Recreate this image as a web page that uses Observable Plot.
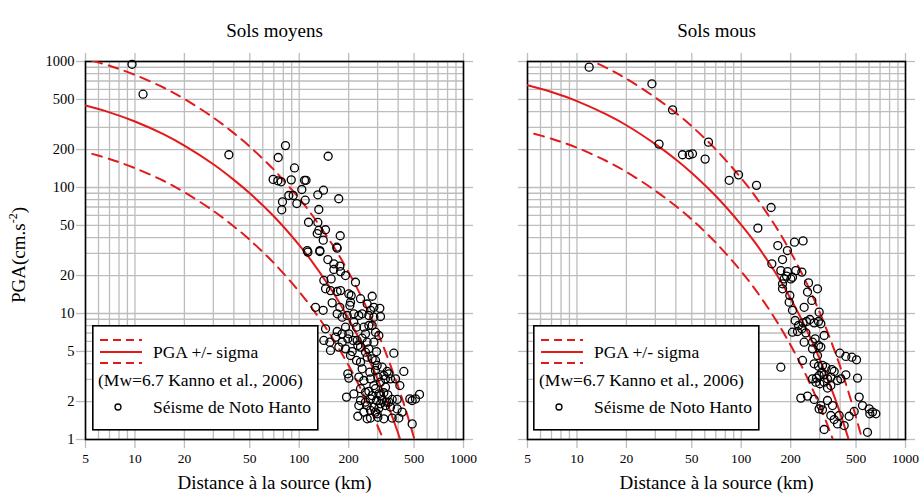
<!DOCTYPE html>
<html><head><meta charset="utf-8">
<script src="https://cdn.jsdelivr.net/npm/d3@7"></script>
<script src="https://cdn.jsdelivr.net/npm/@observablehq/plot@0.6"></script>
<style>
body{margin:0;background:#fff;}
#wrap{position:relative;width:922px;height:497px;overflow:hidden;font-family:"Liberation Serif","DejaVu Serif",serif;}
#wrap > svg{position:absolute;top:0;}
</style></head><body><div id="wrap"></div>
<script>
// ---- axes ----
const xTicks = [5,10,20,50,100,200,500,1000];
const yTicks = [1,2,5,10,20,50,100,200,500,1000];
const xGrid = [5,6,7,8,9,10,20,30,40,50,60,70,80,90,100,200,300,400,500,600,700,800,900,1000];
const yGrid = [1,2,3,4,5,6,7,8,9,10,20,30,40,50,60,70,80,90,100,200,300,400,500,600,700,800,900,1000];
const titles = ["Sols moyens", "Sols mous"];
const xLabel = "Distance à la source (km)";
const yLabelParts = ["PGA(cm.s", "-2", ")"];
const legendLines = ["PGA +/- sigma", "(Mw=6.7 Kanno et al., 2006)", "Séisme de Noto Hanto"];

// ---- Kanno et al. (2006) curves ----
const curveDist = [5,7,10,15,20,30,40,50,70,100,120,150,175,200,225,250,275,300,325,350,375,400,450,500,550,600];
const moyensMed = [447,395,334,264,215,153,115,90,59.1,34.9,25.7,16.9,12.27,9.05,6.78,5.13,3.92,3.01,2.34,1.82,1.42,1.12,0.70,0.44,0.28,0.18];
const moyensUp  = [1048,926,783,619,504,359,270,211,138.5,81.8,60.2,39.6,28.8,21.2,15.9,12.0,9.19,7.06,5.48,4.27,3.33,2.63,1.64,1.03,0.66,0.42];
const moyensLo  = [191,168.5,142.5,112.6,91.7,65.3,49.1,38.4,25.2,14.9,10.96,7.21,5.23,3.86,2.89,2.19,1.67,1.28,1.0,0.78,0.61,0.48,0.30,0.19,0.12,0.077];
const mousMed = [647,572,485,382,312,221,167,130.5,85.6,50.6,37.3,24.5,17.8,13.1,9.82,7.43,5.68,4.37,3.38,2.63,2.06,1.62,1.01,0.639,0.407,0.262];
const mousUp  = [1517,1341,1137,895,731,518,391,306,200.6,118.6,87.4,57.4,41.7,30.7,23.0,17.4,13.3,10.24,7.92,6.16,4.83,3.80,2.37,1.50,0.954,0.614];
const mousLo  = [276,244,207,163,133,94.3,71.2,55.7,36.5,21.6,15.9,10.45,7.59,5.59,4.19,3.17,2.42,1.864,1.442,1.122,0.879,0.691,0.431,0.273,0.174,0.112];

// ---- Noto Hanto observations ----
const moyensDist = [9.6,11.2,37.3,82.5,74.5,150,93.6,69.4,74.1,77.7,89.4,107.7,110,103.7,129.8,140.5,86.4,91.9,174,108.7,79.1,96.7,78.3,131.6,113.9,129.8,144.5,131.6,128.7,177.6,140,169.3,111.8,133.5,
112.9,133.5,170.2,149.4,162.4,176.7,162.4,178.4,191.3,141.2,156.4,220,144.6,155,170.2,178.4,200.4,207.1,125.6,139.9,158.7,176.7,205.2,203.3,236.1,278,259.2,284.6,309.5,271.6,
170.2,182.6,195.8,214.9,230.6,241.6,265.3,284.6,312.4,144.6,170.2,182.6,200.4,223.2,247.4,265.3,278,305.2,141.2,153.6,166.3,182.6,197.6,212.9,225.3,241.6,259.2,284.6,
155,174.2,191.3,210,236.1,265.3,295.4,205.2,223.2,236.1,259.2,278,291.3,376.7,197.6,200.4,241.6,269,291.3,319.8,343,351.1,230.6,247.4,271.6,300.9,327.4,359.5,385.6,433.3,409.7,
194,214.9,236.1,265.3,291.3,305.2,327.4,346.2,236.1,253.2,271.6,295.4,319.8,339.8,368,394.7,487.1,510.3,539.7,471.4,230.6,259.2,284.6,305.2,335.1,359.5,394.7,423.3,
227.4,259.2,271.6,300.9,327.4,368,404,487.1,271.6,247.4,298.1,284.6,312.4,335.1,278,253.2,312.4,298.1,253.2,214.9,191.3,253.2,291.3,227.4,335.1,312.4,351.1,291.3];
const moyensPGA = [950,550,182,215,173,177,143,116,113,111,115,114,114,96.4,87.5,95.2,86.4,86.4,81.4,79.3,77,74.6,66.5,66.9,53,52.8,46.2,45.6,43.1,41.4,38.2,33.6,31.6,31.6,
30.7,31.05,33.0,26.8,24.8,23.75,22.35,21.5,20.0,18.3,18.8,17.7,15.7,15.2,14.95,15.2,14.3,13.9,11.2,10.6,12.15,11.2,12.3,11.6,13.1,13.7,11.9,11.2,11.0,10.6,
9.94,9.35,9.64,9.94,9.64,9.94,9.64,9.35,9.47,7.56,7.20,6.90,6.90,7.79,7.79,8.03,8.03,6.69,6.11,5.92,6.49,5.92,6.30,6.11,6.11,6.37,5.92,5.92,
5.09,5.41,5.24,4.99,5.41,5.24,4.99,4.64,4.24,4.11,4.50,4.37,4.24,4.84,3.32,3.07,3.64,3.42,3.53,3.75,3.47,3.32,3.13,2.94,3.03,3.13,3.22,3.03,3.03,3.47,2.68,
2.17,2.30,2.53,2.41,2.53,2.30,2.35,2.26,2.04,1.98,2.10,2.04,2.08,1.98,2.08,2.08,2.04,2.10,2.28,2.10,1.86,1.86,1.81,1.77,1.86,1.81,1.75,1.65,
1.53,1.46,1.48,1.50,1.46,1.48,1.48,1.33,1.70,1.65,1.60,2.68,2.85,2.60,2.23,2.37,1.92,3.87,4.93,8.53,7.79,6.90,7.11,5.57,3.03,2.23,1.98,1.65];

const mousDist = [11.87,28.6,38.2,31.6,63.2,43.9,48.2,50.5,60.3,84.5,96.3,123.9,152,126.3,167,211,238,191,
178.4,153.6,174.2,191.3,214.9,233.9,205.2,178.4,182.6,188.7,200.4,256.8,291.3,253.2,178.4,197.6,195.8,269,241.6,298.1,205.2,
212.9,223.2,238.3,249.7,261.6,278,295.4,305.2,205.2,220,233.9,247.4,319.8,241.6,271.6,281.9,295.4,305.2,236.1,271.6,291.3,
174.2,278,295.4,312.4,327.4,356.1,368,271.6,287.2,298.1,309.5,319.8,335.1,351.1,385.6,404,433.3,510.3,284.6,300.9,319.8,335.1,351.1,
398.4,433.3,471.4,503.3,230.6,253.2,278,305.2,298.1,312.4,335.1,359.5,522.4,547.3,601,629.8,659.8,606.6,351.1,368,394.7,385.6,423.3,453.9,487.1,319.8,587];
const mousPGA = [902,665,413,221,229,182,182,185,168,114,126,104,69.4,47.6,34.6,36.8,37.7,31.6,
26.8,24.8,21.9,21.5,21.9,21.3,19.4,17.2,18.8,19.8,18.8,17.5,15.7,14.8,15.7,13.9,12.3,12.7,11.2,10.25,10.6,
8.80,8.03,8.43,8.64,8.96,8.43,8.64,8.28,7.11,7.20,7.56,7.02,6.69,5.92,5.92,6.30,5.57,5.41,4.24,5.24,4.64,
3.75,3.99,3.82,3.87,3.75,3.59,3.47,3.03,3.07,3.22,3.42,3.26,3.03,3.13,2.94,3.03,3.26,3.07,2.85,2.77,2.85,2.56,2.68,
4.84,4.56,4.50,4.29,2.13,2.21,2.08,1.86,1.75,1.72,2.04,1.86,2.17,1.86,1.75,1.65,1.60,1.60,1.55,1.44,1.55,1.33,1.29,1.53,1.67,1.20,1.14];

const RED = "#e3191c";
const GRID = "#bdbdbd";
const FONT = "Liberation Serif, DejaVu Serif, serif";

function panel(o) {
  const curves = curveDist.map((d, i) => ({d, med: o.med[i], up: o.up[i], lo: o.lo[i]}));
  const obs = o.dist.map((d, i) => ({d, pga: o.pga[i]}));
  const marks = [
    Plot.ruleX(xGrid, {stroke: GRID, strokeWidth: 1.3}),
    Plot.ruleY(yGrid, {stroke: GRID, strokeWidth: 1.3}),
    Plot.axisX({ticks: xTicks, anchor: "bottom", tickSize: 9, stroke: GRID, strokeWidth: 1.3, tickFormat: () => "", label: null}),
    Plot.axisX({ticks: xTicks, anchor: "top", tickSize: 9, stroke: GRID, strokeWidth: 1.3, tickFormat: () => "", label: null}),
    Plot.axisY({ticks: yTicks, anchor: "left", tickSize: 9, stroke: GRID, strokeWidth: 1.3, tickFormat: () => "", label: null}),
    Plot.axisY({ticks: yTicks, anchor: "right", tickSize: 9, stroke: GRID, strokeWidth: 1.3, tickFormat: () => "", label: null}),
    Plot.text(xTicks, {x: d => d, text: d => String(d), frameAnchor: "bottom", dy: 23, fontSize: 13.5}),
    Plot.frame({stroke: "black", strokeWidth: 1.6}),
    Plot.line(curves, {x: "d", y: "up", stroke: RED, strokeWidth: 2, strokeDasharray: "10,7", strokeDashoffset: 10, curve: "catmull-rom", clip: true}),
    Plot.line(curves, {x: "d", y: "lo", stroke: RED, strokeWidth: 2, strokeDasharray: "10,7", strokeDashoffset: 10, curve: "catmull-rom", clip: true}),
    Plot.line(curves, {x: "d", y: "med", stroke: RED, strokeWidth: 2, curve: "catmull-rom", clip: true}),
    Plot.dot(obs, {x: "d", y: "pga", r: 4, stroke: "black", strokeWidth: 1.3, fill: "none"}),
    Plot.text([o.title], {text: d => d, frameAnchor: "top", dy: -38, fontSize: 19}),
    Plot.text([xLabel], {text: d => d, frameAnchor: "bottom", dy: 49, fontSize: 19})
  ];
  if (o.yLabels) marks.push(Plot.text(yTicks, {y: d => d, text: d => String(d), frameAnchor: "left", dx: -11, textAnchor: "end", fontSize: 14.5}));
  const svg = Plot.plot({
    width: o.width, height: 497,
    marginLeft: o.ml, marginRight: o.mr, marginTop: 61, marginBottom: 58,
    x: {type: "log", domain: [5, 1000]},
    y: {type: "log", domain: [1, 1000]},
    style: {fontFamily: FONT, background: "transparent", color: "black", overflow: "visible"},
    marks
  });
  svg.style.left = o.left + "px";
  if (o.yLabels) {
    const t = d3.select(svg).append("text")
      .attr("transform", "translate(21,255) rotate(-90)")
      .attr("text-anchor", "middle").attr("dominant-baseline", "middle")
      .attr("font-size", 19).attr("font-family", FONT).attr("fill", "black");
    t.append("tspan").text(yLabelParts[0]);
    t.append("tspan").attr("baseline-shift", "super").attr("font-size", 12).text(yLabelParts[1]);
    t.append("tspan").text(yLabelParts[2]);
  }
  return svg;
}

function legend(left, top) {
  const s = d3.create("svg").attr("width", 227).attr("height", 106)
    .style("left", left + "px").style("top", top + "px").style("position", "absolute")
    .style("font-family", FONT).style("font-size", "17.5px");
  s.append("rect").attr("x", 0.8).attr("y", 0.8).attr("width", 225).attr("height", 104).attr("fill", "white").attr("stroke", "black").attr("stroke-width", 1.6);
  [[15, "8,5"], [27, null], [38, "8,5"]].forEach(([y, da]) => {
    const l = s.append("line").attr("x1", 8).attr("x2", 50).attr("y1", y).attr("y2", y).attr("stroke", RED).attr("stroke-width", 2);
    if (da) l.attr("stroke-dasharray", da);
  });
  s.append("text").attr("x", 61).attr("y", 27).attr("dy", "0.35em").text(legendLines[0]);
  s.append("text").attr("x", 6).attr("y", 55).attr("dy", "0.35em").text(legendLines[1]);
  s.append("circle").attr("cx", 26).attr("cy", 82).attr("r", 3).attr("fill", "none").attr("stroke", "black").attr("stroke-width", 1.3);
  s.append("text").attr("x", 61).attr("y", 82).attr("dy", "0.35em").text(legendLines[2]);
  return s.node();
}

const wrap = document.getElementById("wrap");
wrap.append(panel({title: titles[0], dist: moyensDist, pga: moyensPGA, med: moyensMed, up: moyensUp, lo: moyensLo, yLabels: true, width: 470, ml: 85, mr: 7, left: 0}));
wrap.append(panel({title: titles[1], dist: mousDist, pga: mousPGA, med: mousMed, up: mousUp, lo: mousLo, yLabels: false, width: 452, ml: 57, mr: 17, left: 470}));
wrap.append(legend(92, 325));
wrap.append(legend(533, 325));
</script></body></html>
